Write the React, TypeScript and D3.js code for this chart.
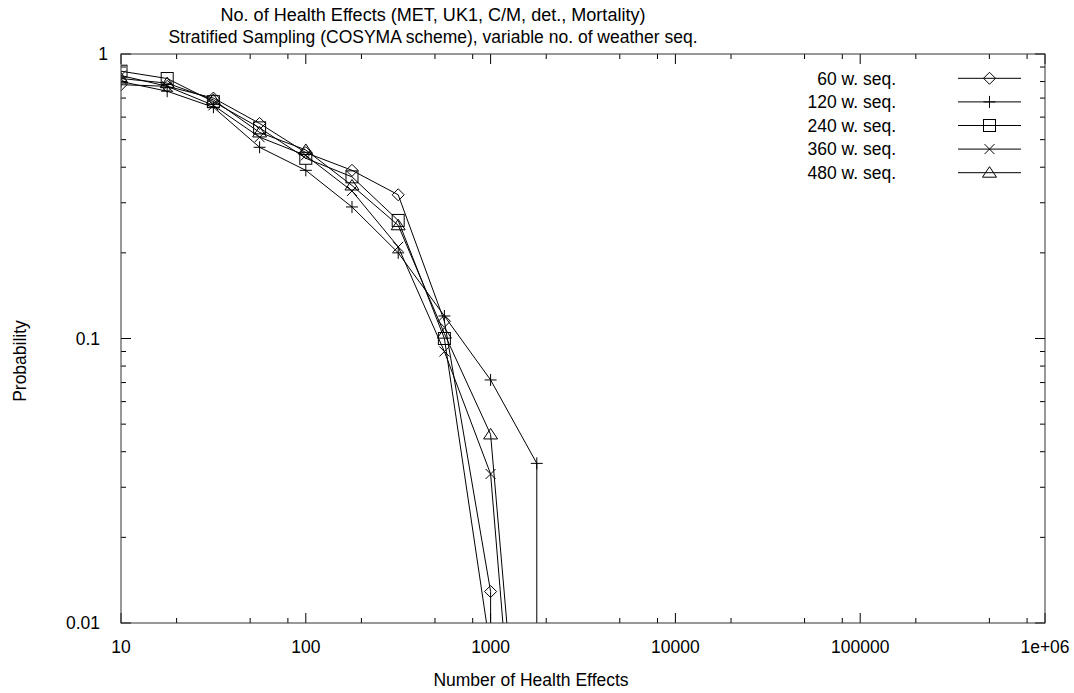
import React from "react";
import * as d3 from "d3";

// ---- data ----
const X_VALUES = [10, 17.78, 31.62, 56.23, 100, 177.8, 316.2, 562.3, 1000, 1778];
const SERIES_NAMES = ["60 w. seq.", "120 w. seq.", "240 w. seq.", "360 w. seq.", "480 w. seq."];
const VALUES_60 = [0.78, 0.77, 0.70, 0.57, 0.45, 0.39, 0.32, 0.115, 0.0129];
const VALUES_120 = [0.80, 0.74, 0.65, 0.47, 0.39, 0.29, 0.20, 0.12, 0.0715, 0.0364];
const VALUES_240 = [0.87, 0.82, 0.68, 0.55, 0.43, 0.37, 0.26, 0.10, 0.008];
const VALUES_360 = [0.84, 0.77, 0.66, 0.51, 0.44, 0.33, 0.21, 0.09, 0.0334, 0.00036];
const VALUES_480 = [0.82, 0.79, 0.69, 0.53, 0.46, 0.345, 0.25, 0.104, 0.046, 0.0006];
// final value reached at the last x (vertical drop), null when none
const DROPS = [1e-4, 1e-4, null, null, null];
const X_TICKS = [10, 100, 1000, 10000, 100000, 1000000];
const X_TICK_LABELS = ["10", "100", "1000", "10000", "100000", "1e+06"];
const Y_TICKS = [1, 0.1, 0.01];
const Y_TICK_LABELS = ["1", "0.1", "0.01"];
const MARKERS = ["diamond", "plus", "square", "cross", "triangle"];

const ALL_VALUES = [VALUES_60, VALUES_120, VALUES_240, VALUES_360, VALUES_480];

const W = 1074;
const H = 693;
const M = { left: 121, right: 1045, top: 54, bottom: 623 };
const FONT = "'Liberation Sans', Arial, Helvetica, sans-serif";
const FS = 17.5;

function Marker({ type, x, y }: { type: string; x: number; y: number }) {
  const s = 6;
  const common = { fill: "none", stroke: "#000", strokeWidth: 1 };
  switch (type) {
    case "diamond":
      return <path d={`M${x},${y - s}L${x + s},${y}L${x},${y + s}L${x - s},${y}Z`} {...common} />;
    case "plus":
      return <path d={`M${x - s},${y}H${x + s}M${x},${y - s}V${y + s}`} {...common} />;
    case "square":
      return <rect x={x - s} y={y - s} width={2 * s} height={2 * s} {...common} />;
    case "cross":
      return <path d={`M${x - 5},${y - 5}L${x + 5},${y + 5}M${x - 5},${y + 5}L${x + 5},${y - 5}`} {...common} />;
    case "triangle":
      return <path d={`M${x},${y - 6}L${x + 7},${y + 4.5}L${x - 7},${y + 4.5}Z`} {...common} />;
    default:
      return null;
  }
}

export default function App() {
  const x = d3.scaleLog().domain([10, 1e6]).range([M.left, M.right]);
  const y = d3.scaleLog().domain([0.01, 1]).range([M.bottom, M.top]);

  const series = ALL_VALUES.map((vals, i) => {
    const pts: [number, number][] = vals.map((v, j) => [X_VALUES[j], v]);
    const drop = DROPS[i];
    const linePts = drop != null ? [...pts, [pts[pts.length - 1][0], drop] as [number, number]] : pts;
    return { pts, linePts, marker: MARKERS[i], name: SERIES_NAMES[i] };
  });

  const line = d3
    .line<[number, number]>()
    .x((d) => x(d[0]))
    .y((d) => y(d[1]));

  const xMinor: number[] = [];
  for (let k = 1; k < 6; k++) [2, 5, 8].forEach((m) => xMinor.push(m * Math.pow(10, k)));
  const yMinor: number[] = [];
  for (let k = -2; k < 0; k++) [2, 3, 4, 5, 6, 7, 8, 9].forEach((m) => yMinor.push(m * Math.pow(10, k)));

  const MAJ = 10;
  const MIN = 5;

  const legendRowY = (i: number) => 78.3 + i * 23.6;

  return (
    <div style={{ position: "absolute", left: 0, top: 0 }}>
      <svg width={W} height={H} style={{ display: "block", background: "#fff" }} fontFamily={FONT}>
        <defs>
          <clipPath id="plotclip">
            <rect x={M.left} y={M.top} width={M.right - M.left} height={M.bottom - M.top} />
          </clipPath>
        </defs>
        <rect x={0} y={0} width={W} height={H} fill="#fff" />

        {/* titles */}
        <text x={433} y={21} fontSize={FS} textAnchor="middle" textLength={425} lengthAdjust="spacingAndGlyphs">
          No. of Health Effects (MET, UK1, C/M, det., Mortality)
        </text>
        <text x={433} y={43} fontSize={FS} textAnchor="middle">
          Stratified Sampling (COSYMA scheme), variable no. of weather seq.
        </text>

        {/* ticks */}
        <g stroke="#000" strokeWidth={1}>
          {X_TICKS.map((t) => (
            <g key={"xt" + t}>
              <line x1={x(t)} x2={x(t)} y1={M.bottom} y2={M.bottom - MAJ} />
              <line x1={x(t)} x2={x(t)} y1={M.top} y2={M.top + MAJ} />
            </g>
          ))}
          {xMinor.map((t) => (
            <g key={"xm" + t}>
              <line x1={x(t)} x2={x(t)} y1={M.bottom} y2={M.bottom - MIN} />
              <line x1={x(t)} x2={x(t)} y1={M.top} y2={M.top + MIN} />
            </g>
          ))}
          {Y_TICKS.map((t) => (
            <g key={"yt" + t}>
              <line x1={M.left} x2={M.left + MAJ} y1={y(t)} y2={y(t)} />
              <line x1={M.right} x2={M.right - MAJ} y1={y(t)} y2={y(t)} />
            </g>
          ))}
          {yMinor.map((t) => (
            <g key={"ym" + t}>
              <line x1={M.left} x2={M.left + MIN} y1={y(t)} y2={y(t)} />
              <line x1={M.right} x2={M.right - MIN} y1={y(t)} y2={y(t)} />
            </g>
          ))}
        </g>

        {/* tick labels */}
        {X_TICKS.map((t, i) => (
          <text key={"xl" + t} x={x(t)} y={653} fontSize={FS} textAnchor="middle">
            {X_TICK_LABELS[i]}
          </text>
        ))}
        {Y_TICKS.map((t, i) => (
          <text
            key={"yl" + t}
            x={Y_TICK_LABELS[i].length === 1 ? 108 : 100}
            y={y(t) + 6.3}
            fontSize={FS}
            textAnchor="end"
          >
            {Y_TICK_LABELS[i]}
          </text>
        ))}

        {/* axis labels */}
        <text x={531} y={686} fontSize={FS} textAnchor="middle">
          Number of Health Effects
        </text>
        <text transform={`translate(26,361) rotate(-90)`} fontSize={FS} textAnchor="middle">
          Probability
        </text>

        {/* data */}
        <g clipPath="url(#plotclip)">
          {series.map((s, i) => (
            <g key={"s" + i}>
              <path d={line(s.linePts) || ""} fill="none" stroke="#000" strokeWidth={1} />
              {s.pts.map((p, j) => (
                <Marker key={j} type={s.marker} x={x(p[0])} y={y(p[1])} />
              ))}
            </g>
          ))}
        </g>

        {/* legend */}
        {series.map((s, i) => (
          <g key={"lg" + i}>
            <text x={896} y={legendRowY(i) + 6.3} fontSize={FS} textAnchor="end">
              {s.name}
            </text>
            <line x1={958} x2={1021} y1={legendRowY(i)} y2={legendRowY(i)} stroke="#000" strokeWidth={1} />
            <Marker type={s.marker} x={989.5} y={legendRowY(i)} />
          </g>
        ))}

        {/* border */}
        <rect
          x={M.left}
          y={M.top}
          width={M.right - M.left}
          height={M.bottom - M.top}
          fill="none"
          stroke="#333"
          strokeWidth={1}
        />
      </svg>
    </div>
  );
}
